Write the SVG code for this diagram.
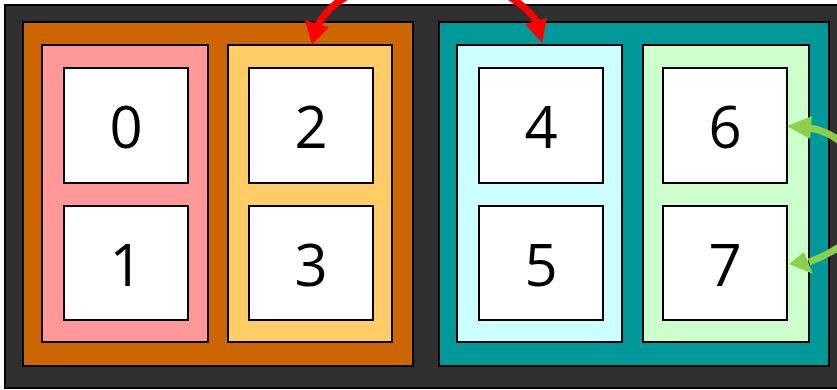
<svg xmlns="http://www.w3.org/2000/svg" width="837" height="390" viewBox="0 0 837 390">
<style>
rect{stroke:#000;stroke-width:2}
.n{fill:#fff}
text{font-family:"Open Sans","Noto Sans",sans-serif;font-size:58px;text-anchor:middle;fill:#000}
.r{fill:none;stroke:#ff0000;stroke-width:7}
.g{fill:none;stroke:#8ccf4d;stroke-width:7}
.rh{fill:#ff0000}
.gh{fill:#8ccf4d}
</style>
<rect x="5" y="5" width="840" height="383" fill="#303030"/>
<g id="groupA">
<rect x="23" y="22" width="390" height="344" fill="#cc6600"/>
<rect x="42" y="45" width="166" height="297" fill="#ff9999"/>
<rect x="228" y="45" width="164" height="297" fill="#ffcc66"/>
</g>
<g id="groupB">
<rect x="439" y="22" width="390" height="344" fill="#009999"/>
<rect x="457" y="45" width="165" height="297" fill="#ccffff"/>
<rect x="643" y="45" width="166" height="297" fill="#ccffcc"/>
</g>
<g id="n0"><rect class="n" x="64" y="68" width="124" height="115"/><text x="126" y="148">0</text></g>
<g id="n1"><rect class="n" x="64" y="206" width="124" height="114"/><text x="126" y="286">1</text></g>
<g id="n2"><rect class="n" x="249" y="68" width="124" height="115"/><text x="311" y="148">2</text></g>
<g id="n3"><rect class="n" x="249" y="206" width="124" height="114"/><text x="311" y="286">3</text></g>
<g id="n4"><rect class="n" x="479" y="68" width="124" height="115"/><text x="541" y="148">4</text></g>
<g id="n5"><rect class="n" x="479" y="206" width="124" height="114"/><text x="541" y="286">5</text></g>
<g id="n6"><rect class="n" x="663" y="68" width="124" height="115"/><text x="725" y="148">6</text></g>
<g id="n7"><rect class="n" x="663" y="206" width="124" height="114"/><text x="725" y="286">7</text></g>
<g id="connectors">
<path class="r" d="M348,-4 Q328,6 318,25"/>
<polygon class="rh" points="312,45 305,20 329,27"/>
<path class="r" d="M508,-4 Q528,8 537,22"/>
<polygon class="rh" points="542,43 525,24 547,18"/>
<path class="g" d="M842,143 Q828,131 810,128"/>
<polygon class="gh" points="787,126 812,116 810,139"/>
<path class="g" d="M842,245 Q826,256 809,262"/>
<polygon class="gh" points="789,264 804,252 813,274"/>
</g>
</svg>
